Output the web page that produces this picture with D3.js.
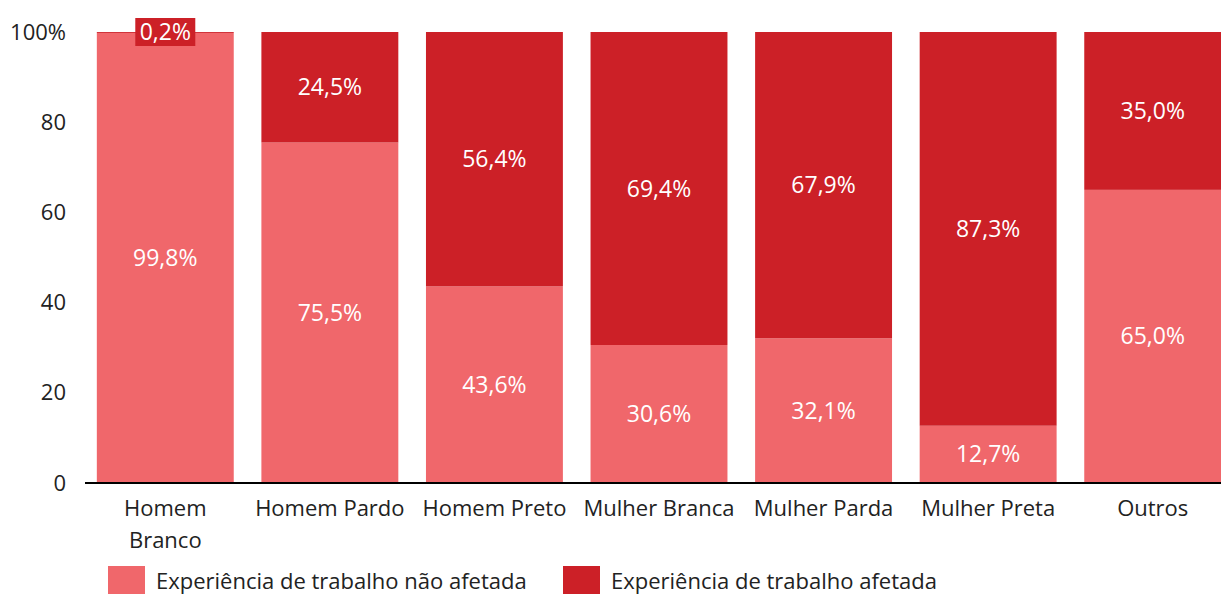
<!DOCTYPE html>
<html>
<head>
<meta charset="utf-8">
<script src="https://cdn.jsdelivr.net/npm/d3@7"></script>
<style>
  html, body { margin: 0; padding: 0; background: #fff; }
  svg { display: block; font-family: "Open Sans", sans-serif; }
</style>
</head>
<body>
<svg id="chart" width="1221" height="594"></svg>
<script>
// Categories and percentages
const categories = [["Homem", "Branco"], ["Homem Pardo"], ["Homem Preto"], ["Mulher Branca"], ["Mulher Parda"], ["Mulher Preta"], ["Outros"]];
const naoAfetada = [99.8, 75.5, 43.6, 30.6, 32.1, 12.7, 65.0];
const afetada = [0.2, 24.5, 56.4, 69.4, 67.9, 87.3, 35.0];
const seriesNames = ["Experiência de trabalho não afetada", "Experiência de trabalho afetada"];
const yTicks = [0, 20, 40, 60, 80, 100];

const colors = ["#F0676B", "#CC2027"];
const fmt = v => v.toFixed(1).replace(".", ",") + "%";
const FS = 22;      // axis and legend text
const LFS = 23;     // value labels

const svg = d3.select("#chart");
const keys = categories.map((c, i) => i);

const x = d3.scaleBand().domain(keys).range([83, 1235]).paddingInner(0.168).paddingOuter(0.084);
const y = d3.scaleLinear().domain([0, 100]).range([483, 32]);

// stacked segments
const rows = keys.map(i => ({ i, a: naoAfetada[i], b: afetada[i] }));
const stack = d3.stack().keys(["a", "b"])(rows);

svg.append("g").selectAll("g").data(stack).join("g")
  .attr("fill", (d, k) => colors[k])
  .selectAll("rect").data(d => d).join("rect")
  .attr("x", d => x(d.data.i))
  .attr("width", x.bandwidth())
  .attr("y", d => y(d[1]))
  .attr("height", d => y(d[0]) - y(d[1]));

// value labels
const labels = svg.append("g").attr("font-size", LFS).attr("fill", "#fff").attr("text-anchor", "middle");
stack.forEach((layer, k) => {
  layer.forEach(d => {
    const v = d[1] - d[0];
    const cx = x(d.data.i) + x.bandwidth() / 2;
    let cy = (y(d[0]) + y(d[1])) / 2;
    if (v < 2) {
      // small segment: label sits in a box on the bar top
      cy = y(100);
      const w = 60, h = 28;
      labels.append("rect").attr("x", cx - w / 2).attr("y", cy - h / 2).attr("width", w).attr("height", h).attr("fill", colors[k]);
    }
    labels.append("text").attr("x", cx).attr("y", cy).attr("dy", "0.35em").text(fmt(v));
  });
});

// x axis baseline
svg.append("line").attr("x1", 85).attr("x2", 1221).attr("y1", y(0)).attr("y2", y(0))
  .attr("stroke", "#000").attr("stroke-width", 2);

// y axis labels
const yAxis = d3.axisLeft(y).tickValues(yTicks).tickSize(0).tickPadding(0)
  .tickFormat(d => d === 100 ? "100%" : d);
svg.append("g").attr("transform", "translate(66,0)").call(yAxis)
  .call(g => g.select(".domain").remove())
  .selectAll("text").attr("font-size", FS).attr("fill", "#222").attr("font-family", "'Open Sans', sans-serif");

// category labels
const cat = svg.append("g").attr("font-size", FS).attr("fill", "#222").attr("text-anchor", "middle");
categories.forEach((lines, i) => {
  const t = cat.append("text").attr("x", x(i) + x.bandwidth() / 2).attr("y", 516);
  lines.forEach((ln, j) => t.append("tspan").attr("x", x(i) + x.bandwidth() / 2).attr("dy", j ? 32 : 0).text(ln));
});

// legend
const legendX = [108, 563];
const leg = svg.append("g").attr("font-size", FS).attr("fill", "#222");
seriesNames.forEach((n, k) => {
  leg.append("rect").attr("x", legendX[k]).attr("y", 566).attr("width", 37).attr("height", 30).attr("fill", colors[k]);
  leg.append("text").attr("x", legendX[k] + 48).attr("y", 589).text(n);
});
</script>
</body>
</html>
